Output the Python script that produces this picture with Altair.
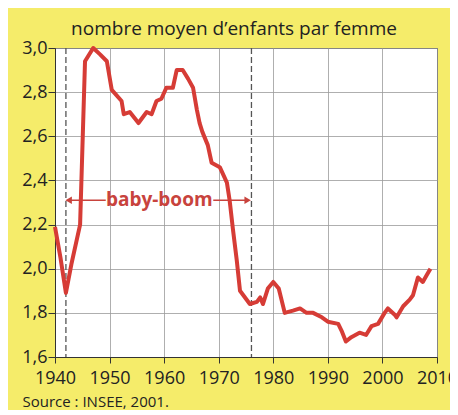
import altair as alt
import pandas as pd

years = [1940, 1941, 1942, 1943, 1944.6, 1945.5, 1947, 1948.3, 1949.5, 1950.4, 1952.2, 1952.6,
         1953.7, 1955.3, 1956.8, 1957.7, 1958.6, 1959.5, 1960.4, 1961.6, 1962.3, 1963.4, 1964.4,
         1965.3, 1966, 1966.5, 1967, 1968, 1968.7, 1970.2, 1971.5, 1972, 1972.6, 1973.3, 1973.9,
         1975.7, 1977, 1977.6, 1978.1, 1979, 1980, 1981, 1982.1, 1983.6, 1984.9, 1986.1, 1987.3,
         1988.9, 1990, 1991.9, 1992.5, 1993.3, 1994.3, 1995.8, 1997, 1998, 1999.2, 2000.4, 2001,
         2002.3, 2002.6, 2003.8, 2005, 2005.6, 2006.5, 2007.4, 2008.1, 2008.8]
values = [2.19, 2.05, 1.89, 2.02, 2.20, 2.94, 3.00, 2.97, 2.94, 2.81, 2.76, 2.70,
          2.71, 2.66, 2.71, 2.70, 2.76, 2.77, 2.82, 2.82, 2.90, 2.90, 2.86,
          2.82, 2.72, 2.66, 2.62, 2.56, 2.48, 2.46, 2.39, 2.31, 2.18, 2.04, 1.90,
          1.84, 1.85, 1.87, 1.84, 1.91, 1.94, 1.91, 1.80, 1.81, 1.82, 1.80, 1.80,
          1.78, 1.76, 1.75, 1.72, 1.67, 1.69, 1.71, 1.70, 1.74, 1.75, 1.80, 1.82,
          1.79, 1.78, 1.83, 1.86, 1.88, 1.96, 1.94, 1.97, 2.00]

boom_limits = [1942, 1976]
x_ticks = [1940, 1950, 1960, 1970, 1980, 1990, 2000, 2010]
y_ticks = [1.6, 1.8, 2.0, 2.2, 2.4, 2.6, 2.8, 3.0]

arrow_y = 2.31
label_year = 1959.1
arrow_left = [1942.5, 1949.3]
arrow_right = [1969.0, 1975.3]

title_text = "nombre moyen d\u2019enfants par femme"
source_text = "Source : INSEE, 2001."
label_text = "baby-boom"

RED = "#d63c36"
ANN = "#c8433d"
FONT = "Open Sans"

df = pd.DataFrame({"year": years, "value": values})
df_lim = pd.DataFrame({"year": boom_limits})
df_seg = pd.DataFrame({"x1": [arrow_left[0], arrow_right[0]],
                       "x2": [arrow_left[1], arrow_right[1]],
                       "y": [arrow_y, arrow_y]})
df_heads = pd.DataFrame({"year": [arrow_left[0], arrow_right[1]],
                         "y": [arrow_y, arrow_y],
                         "shape": ["triangle-left", "triangle-right"]})
df_lab = pd.DataFrame({"year": [label_year], "y": [arrow_y], "t": [label_text]})

xscale = alt.Scale(domain=[1940, 2010], nice=False, zero=False)
yscale = alt.Scale(domain=[1.6, 3.0], nice=False, zero=False)

xaxis = alt.Axis(values=x_ticks, format="d", title=source_text, grid=True,
                 gridColor="#9a9a9a", gridWidth=0.8, labelFont=FONT, labelFontSize=18,
                 labelColor="#222", tickColor="#333", tickSize=6, domainColor="#333",
                 labelPadding=6, titleFont=FONT, titleFontSize=15, titleFontWeight="normal",
                 titleColor="#222", titleAnchor="start", titleAlign="left",
                 titleBaseline="top", titleX=-33, titleY=37,
                 labelFlush=False)
yaxis = alt.Axis(values=y_ticks, title=None, grid=True, gridColor="#9a9a9a", gridWidth=0.8,
                 labelExpr="replace(format(datum.value, '.1f'), '.', ',')",
                 labelFont=FONT, labelFontSize=18, labelColor="#222", tickColor="#333",
                 tickSize=7, domainColor="#333", labelPadding=1)

base_line = alt.Chart(df).mark_line(color=RED, strokeWidth=4, strokeJoin="round").encode(
    x=alt.X("year:Q", scale=xscale, axis=xaxis),
    y=alt.Y("value:Q", scale=yscale, axis=yaxis),
)

lims = alt.Chart(df_lim).mark_rule(color="#555", strokeWidth=1.3, strokeDash=[6, 3]).encode(
    x=alt.X("year:Q", scale=xscale)
)

segs = alt.Chart(df_seg).mark_rule(color=ANN, strokeWidth=1.5).encode(
    x=alt.X("x1:Q", scale=xscale), x2="x2:Q", y=alt.Y("y:Q", scale=yscale)
)

heads = alt.Chart(df_heads).mark_point(filled=True, color=ANN, size=55, opacity=1).encode(
    x=alt.X("year:Q", scale=xscale), y=alt.Y("y:Q", scale=yscale),
    shape=alt.Shape("shape:N", scale=None),
)

lab = alt.Chart(df_lab).mark_text(color=ANN, font=FONT, fontSize=19, fontWeight="bold",
                                  baseline="middle").encode(
    x=alt.X("year:Q", scale=xscale), y=alt.Y("y:Q", scale=yscale), text="t:N"
)

chart = alt.layer(lims, segs, heads, lab, base_line).properties(
    width=382, height=309,
    title=alt.TitleParams(title_text, font=FONT, fontSize=19, fontWeight="normal",
                          color="#222", anchor="middle", dx=-12, dy=8, offset=8),
    autosize=alt.AutoSizeParams(type="none"),
    padding={"left": 47, "top": 40, "right": 13, "bottom": 53},
    background="#f5ec6a",
).configure_view(fill="white", stroke="#333", strokeWidth=1)

chart.save("out.html", embed_options={"renderer": "svg", "actions": False})
